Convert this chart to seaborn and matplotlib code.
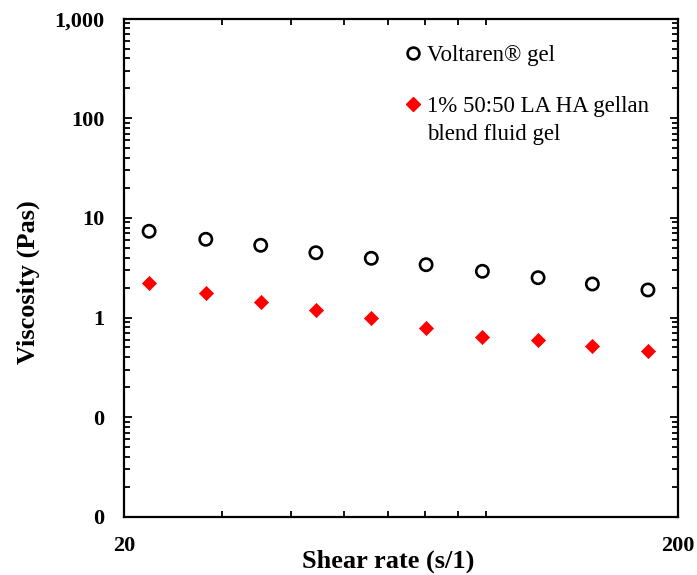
import numpy as np
import pandas as pd
import matplotlib
matplotlib.use("Agg")
import matplotlib.pyplot as plt
import seaborn as sns
from matplotlib.ticker import FuncFormatter, LogLocator, FixedLocator
from matplotlib.lines import Line2D

# Data
shear_rate = [22.2, 28.1, 35.3, 44.4, 55.9, 70.2, 88.7, 111.8, 140.1, 176.5]
voltaren = [7.34, 6.10, 5.31, 4.47, 3.93, 3.39, 2.91, 2.51, 2.17, 1.89]
gellan = [2.22, 1.75, 1.44, 1.19, 1.00, 0.79, 0.641, 0.590, 0.517, 0.458]
series_names = ["Voltaren® gel", "1% 50:50 LA HA gellan blend fluid gel"]
legend_lines = ["Voltaren® gel", "1% 50:50 LA HA gellan", "blend fluid gel"]
y_ticks = [0.01, 0.1, 1, 10, 100, 1000]
x_ticks = [20, 200]

df = pd.DataFrame({
    "shear": shear_rate * 2,
    "visc": voltaren + gellan,
    "series": [series_names[0]] * len(shear_rate) + [series_names[1]] * len(shear_rate),
})

sns.set_theme(style="ticks")
plt.rcParams["font.family"] = ["Liberation Serif", "DejaVu Serif"]

fig = plt.figure(figsize=(6.97, 5.75), dpi=100)
ax = fig.add_axes([124 / 697, 58.3 / 575, 554 / 697, 498 / 575])

sub0 = df[df.series == series_names[0]]
sub1 = df[df.series == series_names[1]]
sns.scatterplot(data=sub0, x="shear", y="visc", ax=ax, marker="o", s=78,
                facecolor="none", edgecolor="black", linewidth=1.9, legend=False)
sns.scatterplot(data=sub1, x="shear", y="visc", ax=ax, marker="D", s=52,
                color="#ff0000", edgecolor="#ff0000", linewidth=0.5, legend=False)

ax.set_xscale("log")
ax.set_yscale("log")
ax.set_xlim(20, 200)
ax.set_ylim(0.01, 1000)
ax.xaxis.set_major_locator(FixedLocator(x_ticks))
ax.xaxis.set_minor_locator(LogLocator(base=10, subs=np.arange(2, 10)))
ax.yaxis.set_major_locator(FixedLocator(y_ticks))
ax.yaxis.set_minor_locator(LogLocator(base=10, subs=np.arange(2, 10)))
fmt = FuncFormatter(lambda v, p: "{:,.0f}".format(v))
ax.xaxis.set_major_formatter(fmt)
ax.yaxis.set_major_formatter(fmt)
ax.xaxis.set_minor_formatter(FuncFormatter(lambda v, p: ""))

for s in ax.spines.values():
    s.set_visible(True)
    s.set_linewidth(1.6)
    s.set_color("black")

ax.tick_params(which="both", direction="in", top=True, right=True, color="black", width=1.3)
ax.tick_params(which="major", length=6)
ax.tick_params(which="minor", length=4)
ax.tick_params(axis="x", which="major", pad=14)
ax.tick_params(axis="y", which="major", pad=14)
for lab in ax.get_xticklabels() + ax.get_yticklabels():
    lab.set_fontweight("bold")
    lab.set_fontsize(16)
    lab.set_color("black")

ax.set_xlabel("Shear rate (s/1)", fontsize=19, fontweight="bold", color="black", va="top")
ax.set_ylabel("Viscosity (Pas)", fontsize=19, fontweight="bold", color="black")
ax.xaxis.set_label_coords(0.4765, -0.067)
ax.yaxis.set_label_coords(-0.152, 0.472)

fs = 16.5
h_circle = Line2D([], [], marker="o", linestyle="none", markerfacecolor="none",
                  markeredgecolor="black", markeredgewidth=1.9, markersize=8.5)
h_diamond = Line2D([], [], marker="D", linestyle="none", color="#ff0000", markersize=7)
h_blank = Line2D([], [], linestyle="none", marker=None)

leg1 = ax.legend([h_circle], legend_lines[:1], loc="center left",
                 bbox_to_anchor=(0.509, 0.926), frameon=False, fontsize=fs,
                 handlelength=0.6, handletextpad=0.3, borderpad=0, borderaxespad=0)
ax.add_artist(leg1)
leg2 = ax.legend([h_diamond, h_blank], legend_lines[1:], loc="center left",
                 bbox_to_anchor=(0.509, 0.796), frameon=False, fontsize=fs,
                 handlelength=0.6, handletextpad=0.3, borderpad=0, borderaxespad=0,
                 labelspacing=0.3)
for lg in (leg1, leg2):
    for t in lg.get_texts():
        t.set_color("black")

fig.savefig("out.png", dpi=100)
